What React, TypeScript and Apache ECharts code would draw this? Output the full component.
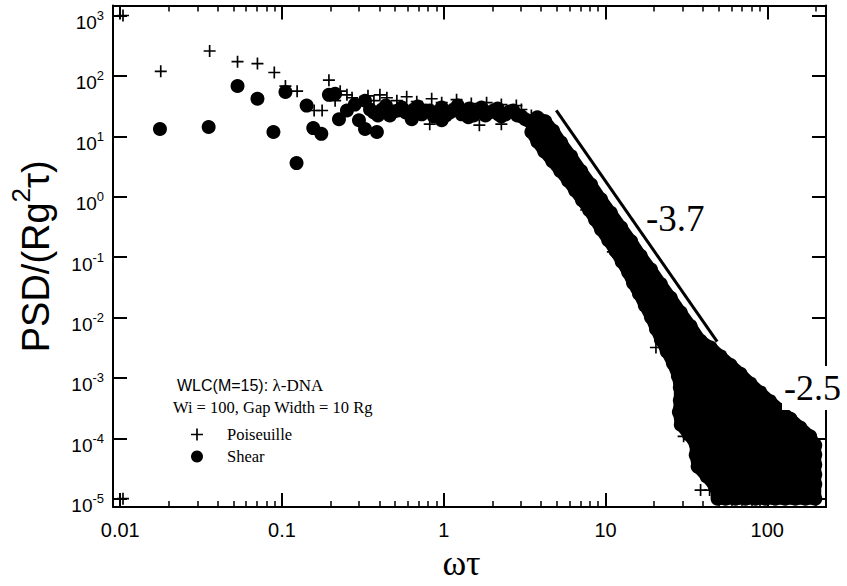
import React, { useEffect, useRef } from "react";
import * as echarts from "echarts";

// ---- axis ranges (data units) ----
const xRange = [0.00902, 230.7];
const yRange = [7.26e-6, 1466];

// ---- ticks ----
const xMajorTicks = [0.01, 0.1, 1, 10, 100];
const xMajorLabels = ["0.01", "0.1", "1", "10", "100"];
const xMinorTicks = [
  0.02, 0.03, 0.04, 0.05, 0.06, 0.07, 0.08, 0.09,
  0.2, 0.3, 0.4, 0.5, 0.6, 0.7, 0.8, 0.9,
  2, 3, 4, 5, 6, 7, 8, 9,
  20, 30, 40, 50, 60, 70, 80, 90,
  200,
];
const yMajorExponents = [-5, -4, -3, -2, -1, 0, 1, 2, 3];

// ---- Poiseuille (+) ----
const poiseuilleSparse = [
  [0.0104, 1000], [0.0104, 1.0e-5],
  [0.0178, 119], [0.0357, 259], [0.0531, 172], [0.0705, 160], [0.0896, 114],
  [0.105, 68], [0.124, 56], [0.195, 85], [0.158, 26.8], [0.177, 26.8],
  [0.213, 38.9], [0.252, 48.6], [0.229, 56], [0.403, 48.6],
];
const poiseuillePlateau = [
  [0.271, 43.5], [0.304, 37.5], [0.34, 46.9], [0.37, 38.9], [0.445, 43.5],
  [0.513, 38.9], [0.59, 45.2], [0.681, 37.5], [0.842, 41.9], [0.971, 36.1],
  [1.2, 40.4], [1.48, 34.8], [1.84, 36.1], [2.27, 33.5], [2.81, 32.3],
  [3.02, 27.8], [3.48, 22.2], [0.819, 15.9], [1.66, 15.3], [2.27, 15.9],
];
const poiseuilleTail = [
  [7.59, 0.603], [11.1, 0.122], [20.5, 0.00319], [30.4, 1.08e-4],
  [38.7, 1.39e-5], [44.0, 1.39e-5],
];

// ---- Shear (filled circles) ----
const shearSparse = [
  [0.0176, 13.2], [0.0352, 14.3], [0.0531, 68], [0.0705, 41.9], [0.0885, 11.8],
  [0.105, 54.3], [0.123, 3.6], [0.142, 32.3], [0.156, 13.7], [0.175, 11.0],
  [0.195, 48.6], [0.213, 50.5], [0.225, 19.2], [0.252, 26.8], [0.299, 18.5],
  [0.326, 13.2], [0.386, 11.8], [0.282, 33.5], [0.326, 38.9],
];
const shearPlateau = [
  [0.35, 27.8], [0.392, 22.2], [0.439, 32.3], [0.492, 25.8], [0.551, 30.0],
  [0.617, 23.1], [0.691, 31.1], [0.773, 26.8], [0.867, 21.4], [0.971, 30.0],
  [1.09, 24.9], [1.22, 32.3], [1.36, 25.8], [1.53, 22.2], [1.71, 30.0],
  [1.92, 24.9], [2.15, 28.9], [2.41, 23.1], [2.69, 26.8], [3.02, 21.4],
  [3.38, 17.8], [3.79, 13.7], [4.24, 9.8],
  [0.634, 19.2], [0.971, 18.5], [1.42, 20.7], [2.18, 23.1],
  [0.37, 24.9], [0.415, 27.8], [0.464, 22.2], [0.52, 26.8], [0.582, 24.9],
  [0.653, 27.8], [0.731, 23.1], [0.819, 26.8], [0.917, 24.9], [1.03, 22.2],
  [1.15, 27.8], [1.29, 23.1], [1.44, 28.9], [1.62, 25.8], [1.81, 22.2],
  [2.03, 26.8], [2.27, 21.4], [2.55, 25.8], [2.85, 22.2], [3.19, 19.2],
  [3.58, 15.9],
];
// outline of the dense shear cloud (circle centres), clockwise
const shearUpperEdge = [
  [3.79, 20.7], [4.24, 17.8], [4.75, 12.3], [5.32, 7.85], [6.13, 4.67],
  [7.07, 2.67], [8.14, 1.59], [9.38, 0.908], [10.8, 0.539], [12.5, 0.309],
  [14.4, 0.183], [16.5, 0.105], [19.1, 0.0623], [22.0, 0.0357], [25.3, 0.0212],
  [29.2, 0.0121], [33.6, 0.0072], [38.7, 0.00412],
  [44.7, 0.00319], [51.4, 0.00228], [59.3, 0.00163], [68.3, 0.00117],
  [78.7, 8.05e-4], [90.6, 5.75e-4], [104, 4.12e-4], [120, 2.94e-4],
  [139, 2.11e-4], [160, 1.51e-4], [184, 1.08e-4],
];
const shearRightEdge = [
  [198, 7.71e-5], [198, 5.32e-5], [198, 3.66e-5], [198, 2.52e-5], [198, 1.74e-5],
];
const shearBottomEdge = [
  [198, 1.0e-5], [172, 1.0e-5], [149, 1.0e-5], [129, 1.0e-5], [112, 1.0e-5],
  [97.3, 1.0e-5], [84.5, 1.0e-5], [73.3, 1.0e-5], [63.6, 1.0e-5], [55.2, 1.0e-5],
  [49.3, 1.0e-5],
];
const shearLowerEdge = [
  [49.3, 1.11e-5], [47.3, 1.61e-5], [42.2, 2.34e-5], [37.1, 3.4e-5],
  [36.1, 5.31e-5], [36.1, 8.0e-5], [32.7, 1.16e-4], [29.2, 1.68e-4],
  [28.4, 2.73e-4], [28.8, 4.27e-4], [28.8, 6.92e-4], [28.0, 1.08e-3],
  [26.1, 1.75e-3], [23.9, 2.74e-3], [22.0, 4.29e-3], [20.5, 6.45e-3],
  [19.1, 0.0101], [17.5, 0.0158], [16.1, 0.0247], [14.8, 0.0372],
  [13.8, 0.0559], [12.6, 0.0841], [11.5, 0.127], [10.4, 0.19],
  [9.38, 0.286], [8.62, 0.416], [7.91, 0.603], [7.16, 0.875],
  [6.49, 1.27], [5.87, 1.84], [5.25, 2.67], [4.69, 3.87],
  [4.18, 5.62], [3.79, 8.15], [3.48, 11.8],
];

// ---- fitted slope line (-3.7) ----
const slopeLine = [
  [4.96, 26.8],
  [49, 0.004],
];

const L = (p: number[]) => [Math.log10(p[0]), Math.log10(p[1])];
const PLUS = "path://M4.3,0H5.7V4.3H10V5.7H5.7V10H4.3V5.7H0V4.3H4.3Z";
const SANS = "Liberation Sans";
const SERIF = "Liberation Serif";

function buildOption() {
  const lxMin = Math.log10(xRange[0]);
  const lxMax = Math.log10(xRange[1]);
  const lyMin = Math.log10(yRange[0]);
  const lyMax = Math.log10(yRange[1]);
  const xMajor = xMajorTicks.map((v) => Math.log10(v));
  const xMinor = xMinorTicks.map((v) => Math.log10(v));

  const axisLine = { show: true, onZero: false, lineStyle: { color: "#000", width: 2 } };
  const noLine = { show: false, onZero: false };
  const majorTick = (vals: number[]) => ({
    show: true,
    inside: true,
    length: 14,
    customValues: vals,
    lineStyle: { color: "#000", width: 2 },
  });
  const minorTick = (vals: number[]) => ({
    show: true,
    inside: true,
    length: 6,
    customValues: vals,
    lineStyle: { color: "#000", width: 1.5 },
  });
  const baseX = { type: "value", min: lxMin, max: lxMax, splitLine: { show: false } };
  const baseY = { type: "value", min: lyMin, max: lyMax, splitLine: { show: false } };

  const cloudOutline = [
    ...shearUpperEdge,
    ...shearRightEdge,
    ...shearBottomEdge,
    ...shearLowerEdge,
  ];
  const solid = { color: "#000", opacity: 1, borderWidth: 0, borderColor: "#000" };

  return {
    animation: false,
    backgroundColor: "#fff",
    grid: { left: 110, right: 21, top: 5.5, bottom: 66.5 },
    xAxis: [
      {
        ...baseX,
        position: "bottom",
        axisLine,
        axisTick: majorTick(xMajor),
        axisLabel: {
          customValues: xMajor,
          margin: 13,
          color: "#000",
          fontFamily: SANS,
          fontSize: 20,
          formatter: (v: number) => {
            const i = xMajor.findIndex((t) => Math.abs(t - v) < 1e-6);
            return i >= 0 ? xMajorLabels[i] : "";
          },
        },
        name: "ωτ",
        nameLocation: "middle",
        nameGap: 25,
        nameTextStyle: { color: "#000", fontFamily: SERIF, fontSize: 36, padding: [0, 16, 0, 0] },
      },
      {
        ...baseX,
        position: "bottom",
        axisLine: noLine,
        axisTick: minorTick(xMinor),
        axisLabel: { show: false },
      },
      {
        ...baseX,
        position: "top",
        axisLine,
        axisTick: majorTick(xMajor),
        axisLabel: { show: false },
      },
      {
        ...baseX,
        position: "top",
        axisLine: noLine,
        axisTick: minorTick(xMinor),
        axisLabel: { show: false },
      },
    ],
    yAxis: [
      {
        ...baseY,
        position: "left",
        axisLine,
        axisTick: majorTick(yMajorExponents),
        axisLabel: {
          customValues: yMajorExponents,
          margin: 9,
          formatter: (v: number) => `{b|10}{s|${Math.round(v)}}`,
          rich: {
            b: { fontFamily: SANS, fontSize: 19, color: "#000", lineHeight: 20, verticalAlign: "bottom" },
            s: { fontFamily: SANS, fontSize: 13, color: "#000", lineHeight: 33, verticalAlign: "middle" },
          },
        },
        name: "{a|PSD/(Rg}{s|2}{a|τ)}",
        nameLocation: "middle",
        nameGap: 58,
        nameTextStyle: {
          color: "#000",
          rich: {
            a: { fontFamily: SANS, fontSize: 38, color: "#000", lineHeight: 40, verticalAlign: "bottom" },
            s: {
              fontFamily: SANS,
              fontSize: 26,
              color: "#000",
              lineHeight: 26,
              padding: [0, 0, 21, 0],
              verticalAlign: "bottom",
            },
          },
        },
      },
      {
        ...baseY,
        position: "right",
        axisLine,
        axisTick: majorTick(yMajorExponents),
        axisLabel: { show: false },
      },
    ],
    legend: {
      data: ["Poiseuille", "Shear"],
      orient: "vertical",
      left: 186,
      top: 421,
      itemWidth: 24,
      itemHeight: 12,
      itemGap: 5,
      selectedMode: false,
      textStyle: { fontFamily: SERIF, fontSize: 16.5, color: "#000", padding: [0, 0, 0, 13] },
    },
    graphic: [
      {
        type: "text",
        x: 177,
        y: 385,
        z: 100,
        style: {
          text: "{a|WLC(M=15): }{b|λ-DNA}",
          verticalAlign: "middle",
          rich: {
            a: { fontFamily: SANS, fontSize: 16, fill: "#000" },
            b: { fontFamily: SERIF, fontSize: 17, fill: "#000" },
          },
        },
      },
      {
        type: "text",
        x: 173,
        y: 407,
        z: 100,
        style: {
          text: "Wi = 100, Gap Width = 10 Rg",
          fontFamily: SERIF,
          fontSize: 16.5,
          fill: "#000",
          verticalAlign: "middle",
        },
      },
      {
        type: "text",
        x: 646,
        y: 218,
        z: 100,
        style: {
          text: "-3.7",
          fontFamily: SERIF,
          fontSize: 37,
          fill: "#000",
          verticalAlign: "middle",
        },
      },
      {
        type: "text",
        x: 782,
        y: 388,
        z: 100,
        style: {
          text: "-2.5",
          fontFamily: SERIF,
          fontSize: 36,
          fill: "#000",
          verticalAlign: "middle",
          backgroundColor: "#fff",
          padding: [8, 2, 0, 2],
        },
      },
    ],
    series: [
      {
        type: "custom",
        name: "cloud",
        xAxisIndex: 0,
        yAxisIndex: 0,
        silent: true,
        z: 2,
        data: [L(cloudOutline[0])],
        renderItem: (params: any, api: any) => {
          if (params.dataIndex !== 0) return null;
          const pts = cloudOutline.map((p) => api.coord(L(p)));
          return {
            type: "polygon",
            shape: { points: pts },
            style: { fill: "#000", stroke: "#000", lineWidth: 12, lineJoin: "round" },
          };
        },
      },
      {
        type: "scatter",
        name: "Shear",
        xAxisIndex: 0,
        yAxisIndex: 0,
        symbol: "circle",
        symbolSize: 14,
        z: 3,
        itemStyle: solid,
        emphasis: { disabled: true },
        data: [
          ...shearSparse,
          ...shearPlateau,
          ...shearUpperEdge,
          ...shearRightEdge,
          ...shearBottomEdge,
          ...shearLowerEdge,
        ].map(L),
      },
      {
        type: "scatter",
        name: "Poiseuille",
        xAxisIndex: 0,
        yAxisIndex: 0,
        symbol: PLUS,
        symbolSize: 12,
        z: 4,
        itemStyle: solid,
        emphasis: { disabled: true },
        data: [...poiseuilleSparse, ...poiseuillePlateau, ...poiseuilleTail].map(L),
      },
      {
        type: "line",
        name: "slope",
        xAxisIndex: 0,
        yAxisIndex: 0,
        symbol: "none",
        silent: true,
        z: 5,
        lineStyle: { color: "#000", width: 3 },
        data: slopeLine.map(L),
      },
    ],
  };
}

export default function App() {
  const ref = useRef<HTMLDivElement>(null);
  useEffect(() => {
    if (!ref.current) return;
    const chart = echarts.init(ref.current, null, { renderer: "svg" });
    chart.setOption(buildOption() as any);
    return () => chart.dispose();
  }, []);
  return (
    <div
      ref={ref}
      style={{ position: "fixed", left: 0, top: 0, width: 847, height: 586, background: "#fff" }}
    />
  );
}
